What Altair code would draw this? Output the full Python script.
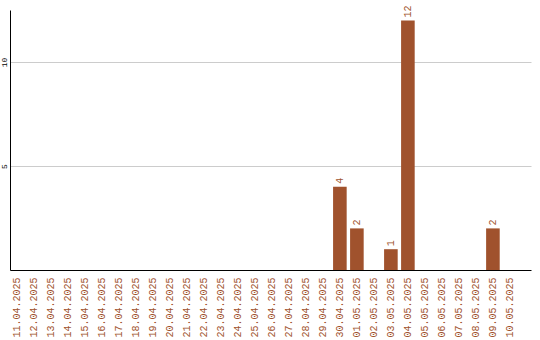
import altair as alt
import pandas as pd

dates = ["11.04.2025", "12.04.2025", "13.04.2025", "14.04.2025", "15.04.2025",
         "16.04.2025", "17.04.2025", "18.04.2025", "19.04.2025", "20.04.2025",
         "21.04.2025", "22.04.2025", "23.04.2025", "24.04.2025", "25.04.2025",
         "26.04.2025", "27.04.2025", "28.04.2025", "29.04.2025", "30.04.2025",
         "01.05.2025", "02.05.2025", "03.05.2025", "04.05.2025", "05.05.2025",
         "06.05.2025", "07.05.2025", "08.05.2025", "09.05.2025", "10.05.2025"]
counts = [0, 0, 0, 0, 0, 0, 0, 0, 0, 0,
          0, 0, 0, 0, 0, 0, 0, 0, 0, 4,
          2, 0, 1, 12, 0, 0, 0, 0, 2, 0]

df = pd.DataFrame({"date": dates, "count": counts})
df["label"] = [str(c) if c > 0 else "" for c in counts]

COLOR = "#a0522d"
FONT = "Liberation Mono"

x = alt.X("date:N", sort=dates, title=None,
          scale=alt.Scale(paddingInner=0.2, paddingOuter=0.42, align=0),
          axis=alt.Axis(labelAngle=270, labelColor=COLOR, labelFont=FONT,
                        labelFontSize=10, ticks=False, labelPadding=7,
                        domainColor="black", grid=False, labelOverlap=False))
y = alt.Y("count:Q", title=None,
          scale=alt.Scale(domain=[0, 12.5], nice=False),
          axis=alt.Axis(values=[5, 10], labelAngle=270, labelFont=FONT,
                        labelFontSize=8, labelColor="black", ticks=False,
                        labelPadding=2, domainColor="black", gridColor="#cccccc"))

bars = alt.Chart(df).mark_bar(color=COLOR).encode(x=x, y=y)
text = alt.Chart(df).mark_text(angle=270, align="left", baseline="middle",
                               dx=3, color=COLOR, font=FONT, fontSize=10).encode(
    x=alt.X("date:N", sort=dates), y="count:Q", text="label:N")

chart = (bars + text).properties(
    width=521, height=260,
    autosize=alt.AutoSizeParams(type="none"),
    padding={"left": 10, "top": 10, "right": 9, "bottom": 70},
).configure_view(stroke=None).configure_axisY(gridColor="#cccccc")

chart.save("out.html", embed_options={"renderer": "svg", "actions": False})
